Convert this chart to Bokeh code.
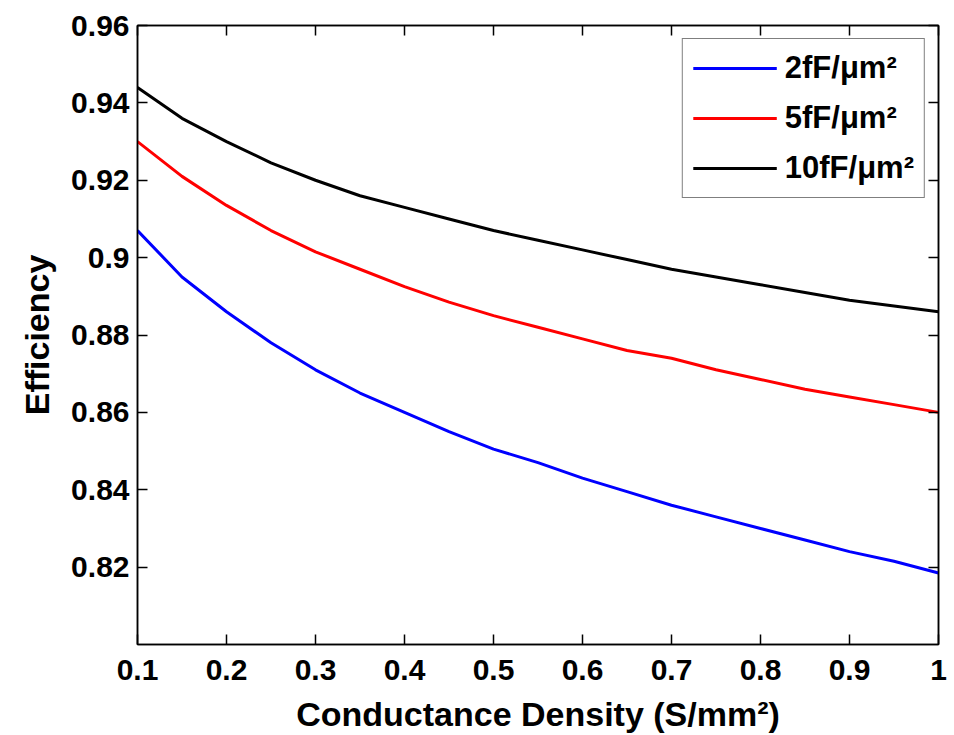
from bokeh.plotting import figure
from bokeh.models import LinearAxis, FixedTicker, Range1d, Legend, LegendItem
from bokeh.embed import file_html
from bokeh.resources import INLINE

# ---- data ----
conductance = [0.10, 0.15, 0.20, 0.25, 0.30, 0.35, 0.40, 0.45, 0.50, 0.55,
               0.60, 0.65, 0.70, 0.75, 0.80, 0.85, 0.90, 0.95, 1.00]
eff_2fF = [0.907, 0.895, 0.886, 0.878, 0.871, 0.865, 0.860, 0.855, 0.8505, 0.847,
           0.843, 0.8395, 0.836, 0.833, 0.830, 0.827, 0.824, 0.8215, 0.8185]
eff_5fF = [0.930, 0.921, 0.9135, 0.907, 0.9015, 0.897, 0.8925, 0.8885, 0.885, 0.882,
           0.879, 0.876, 0.874, 0.871, 0.8685, 0.866, 0.864, 0.862, 0.860]
eff_10fF = [0.944, 0.936, 0.930, 0.9245, 0.920, 0.916, 0.913, 0.910, 0.907, 0.9045,
            0.902, 0.8995, 0.897, 0.895, 0.893, 0.891, 0.889, 0.8875, 0.886]
series_labels = ["2fF/\u03bcm\u00b2", "5fF/\u03bcm\u00b2", "10fF/\u03bcm\u00b2"]
series_colors = ["#0000ff", "#ff0000", "#000000"]

x_ticks = [0.1, 0.2, 0.3, 0.4, 0.5, 0.6, 0.7, 0.8, 0.9, 1.0]
x_tick_labels = ["0.1", "0.2", "0.3", "0.4", "0.5", "0.6", "0.7", "0.8", "0.9", "1"]
y_ticks = [0.82, 0.84, 0.86, 0.88, 0.90, 0.92, 0.94, 0.96]
y_tick_labels = ["0.82", "0.84", "0.86", "0.88", "0.9", "0.92", "0.94", "0.96"]

FONT = "'Liberation Sans', Arial, sans-serif"

p = figure(width=954, height=735, output_backend="svg", toolbar_location=None,
           x_range=Range1d(0.1, 1.0), y_range=Range1d(0.80, 0.96),
           min_border_left=137, min_border_right=16, min_border_top=25, min_border_bottom=90,
           x_axis_label="Conductance Density (S/mm\u00b2)", y_axis_label="Efficiency")
p.grid.visible = False
p.outline_line_color = "black"
p.outline_line_width = 1.5
p.background_fill_color = "white"
p.border_fill_color = "white"

renderers = []
for ys, col in zip([eff_2fF, eff_5fF, eff_10fF], series_colors):
    r = p.line(conductance, ys, line_color=col, line_width=3)
    renderers.append(r)

def style_axis(ax, ticks, labels=None):
    ax.ticker = FixedTicker(ticks=ticks)
    ax.major_tick_in = 10
    ax.major_tick_out = 0
    ax.minor_tick_line_color = None
    ax.axis_line_color = "black"
    ax.axis_line_width = 1.5
    ax.major_tick_line_color = "black"
    ax.major_tick_line_width = 1.5
    if labels is not None:
        ax.major_label_overrides = dict(zip(ticks, labels))
        ax.major_label_text_font = FONT
        ax.major_label_text_font_style = "bold"
        ax.major_label_text_color = "black"
        ax.major_label_text_font_size = "30px"
    else:
        ax.major_label_text_color = None
        ax.major_label_text_font_size = "1px"
        ax.major_label_standoff = 0

style_axis(p.xaxis[0], x_ticks, x_tick_labels)
style_axis(p.yaxis[0], y_ticks, y_tick_labels)
p.xaxis[0].major_label_standoff = 15
p.yaxis[0].major_label_standoff = 8
for ax in [p.xaxis[0], p.yaxis[0]]:
    ax.axis_label_text_font = FONT
    ax.axis_label_text_font_style = "bold"
    ax.axis_label_text_font_size = "34px"
    ax.axis_label_text_color = "black"
p.xaxis[0].axis_label_standoff = 12
p.yaxis[0].axis_label_standoff = 12

top_ax = LinearAxis()
right_ax = LinearAxis()
style_axis(top_ax, x_ticks)
style_axis(right_ax, y_ticks)
p.add_layout(top_ax, "above")
p.add_layout(right_ax, "right")

legend = Legend(items=[LegendItem(label=l, renderers=[r]) for l, r in zip(series_labels, renderers)],
                location="top_right")
legend.margin = 13
legend.padding = 10
legend.spacing = 12
legend.label_height = 38
legend.glyph_height = 38
legend.glyph_width = 84
legend.label_standoff = 8
legend.label_text_font = FONT
legend.label_text_font_style = "bold"
legend.label_text_font_size = "31px"
legend.label_text_color = "black"
legend.border_line_color = "black"
legend.border_line_width = 1.5
legend.background_fill_color = "white"
legend.background_fill_alpha = 1.0
p.add_layout(legend, "center")

open("out.html", "w").write(file_html(p, INLINE))
